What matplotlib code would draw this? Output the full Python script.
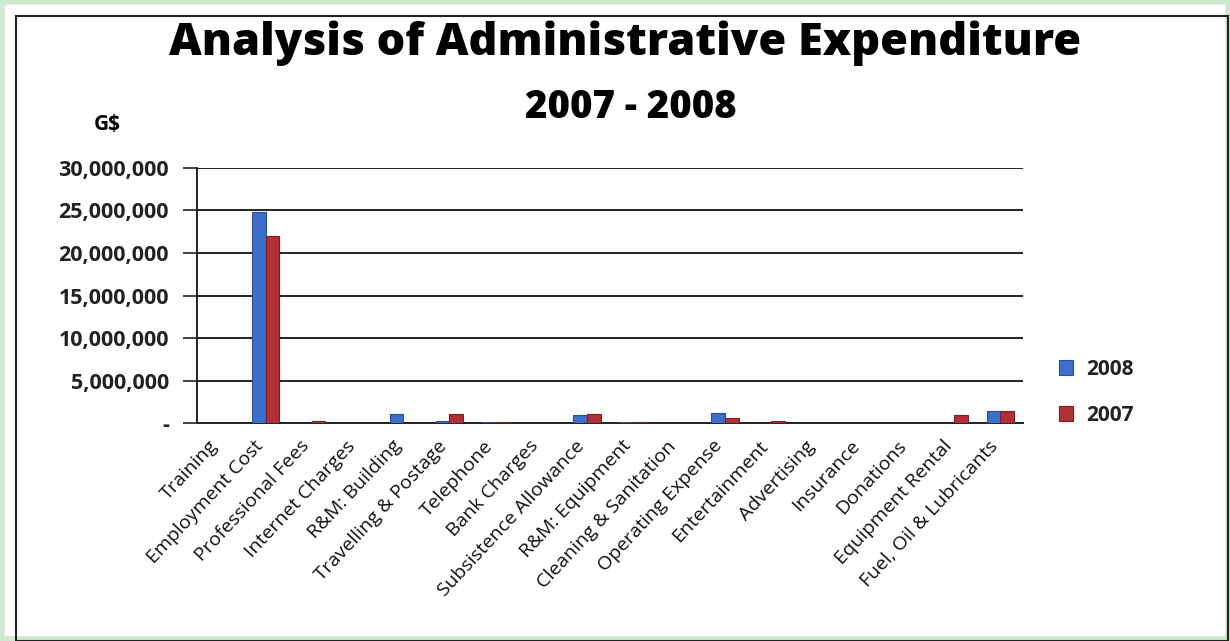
import numpy as np
import matplotlib
matplotlib.use("Agg")
import matplotlib.pyplot as plt
from matplotlib.patches import Rectangle
from matplotlib.ticker import FuncFormatter
import matplotlib.transforms as mtrans

# Administrative expenditure by category (G$)
categories = ["Training", "Employment Cost", "Professional Fees", "Internet Charges",
              "R&M: Building", "Travelling & Postage", "Telephone", "Bank Charges",
              "Subsistence Allowance", "R&M: Equipment", "Cleaning & Sanitation",
              "Operating Expense", "Entertainment", "Advertising", "Insurance",
              "Donations", "Equipment Rental", "Fuel, Oil & Lubricants"]
values_2008 = [0, 24800000, 30000, 60000, 1050000, 300000, 120000, 50000,
               900000, 100000, 30000, 1200000, 60000, 20000, 20000, 30000,
               20000, 1450000]
values_2007 = [0, 22000000, 200000, 50000, 60000, 1100000, 100000, 50000,
               1050000, 100000, 30000, 650000, 200000, 20000, 20000, 30000,
               950000, 1400000]
years = ["2008", "2007"]
yticks = [0, 5000000, 10000000, 15000000, 20000000, 25000000, 30000000]

plt.rcParams['font.family'] = ['Open Sans', 'DejaVu Sans']

fig = plt.figure(figsize=(12.3, 6.41), dpi=100)
fig.patch.set_facecolor("white")

# frame round the chart
fig.add_artist(Rectangle((0.002, 0.003), 0.996, 0.994, transform=fig.transFigure,
                         fill=False, edgecolor="#cfe8cf", lw=4))
fig.add_artist(Rectangle((0.013, 0.0), 0.985, 0.975, transform=fig.transFigure,
                         fill=False, edgecolor="#222222", lw=1.5))

ax = fig.add_axes([0.160, 0.340, 0.672, 0.398])

x = np.arange(len(categories))
w = 0.3
ax.bar(x - w / 2, values_2008, w, color="#3b6fcb", edgecolor="#2a4f96", lw=0.8, label=years[0], zorder=3)
ax.bar(x + w / 2, values_2007, w, color="#b03035", edgecolor="#7a1f22", lw=0.8, label=years[1], zorder=3)

ax.set_xlim(-0.5, len(categories) - 0.5)
ax.set_ylim(0, 30000000)
ax.set_yticks(yticks)
ax.yaxis.set_major_formatter(FuncFormatter(lambda v, p: "-" if v == 0 else f"{int(v):,}"))
ax.grid(axis="y", color="#222222", lw=1.4, zorder=0)
for s in ["top", "right"]:
    ax.spines[s].set_visible(False)
ax.spines["left"].set_color("#222222")
ax.spines["left"].set_linewidth(1.4)
ax.spines["bottom"].set_color("#222222")
ax.spines["bottom"].set_linewidth(1.4)
ax.tick_params(axis="y", length=10, width=1.2, color="#222222", labelsize=15.5, pad=10)
for t in ax.get_yticklabels():
    t.set_fontweight("bold")
    t.set_color("#222222")

ax.set_xticks(x)
ax.set_xticklabels(categories, rotation=47, ha="right", rotation_mode="anchor", fontsize=14)
ax.tick_params(axis="x", length=0, pad=10)
shift = mtrans.ScaledTranslation(-12 / 100, 0, fig.dpi_scale_trans)
for t in ax.get_xticklabels():
    t.set_transform(t.get_transform() + shift)
    t.set_color("#111111")

leg = ax.legend(loc="center left", bbox_to_anchor=(1.02, 0.12), frameon=False,
                fontsize=15, handlelength=0.7, handleheight=0.7, labelspacing=1.2,
                handletextpad=0.6)
for t in leg.get_texts():
    t.set_fontweight("bold")
    t.set_color("#222222")

fig.text(0.508, 0.932, "Analysis of Administrative Expenditure", ha="center", va="center",
         fontsize=32.5, fontweight="heavy")
fig.text(0.513, 0.833, "2007 - 2008", ha="center", va="center", fontsize=27.5, fontweight="heavy")
fig.text(0.087, 0.805, "G$", ha="center", va="center", fontsize=15, fontweight="bold")

fig.savefig("out.png", dpi=100)
